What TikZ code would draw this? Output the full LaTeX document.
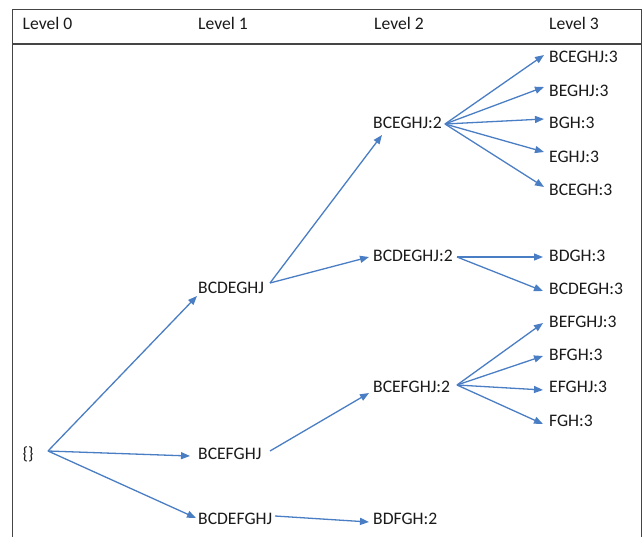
\documentclass[tikz,border=0pt]{standalone}
\usepackage{fontspec}
\setmainfont{Carlito}
\usetikzlibrary{arrows.meta}
\definecolor{arrowblue}{HTML}{4A7EC4}
\definecolor{txt}{HTML}{1A1A1A}
\definecolor{frame}{HTML}{454545}
\tikzset{
  lbl/.style={anchor=west, inner sep=0pt, text=txt, font=\fontsize{17.6}{20}\selectfont},
  hdr/.style={lbl},
  conn/.style={draw=arrowblue, line width=1.3pt, -{Triangle[length=9pt,width=7pt]}},
}
\begin{document}
\begin{tikzpicture}[x=1pt,y=-1pt]
\useasboundingbox (0,0) rectangle (643,536);
\fill[white] (0,0) rectangle (643,536);
% frame
\draw[frame, line width=1.4pt] (12.7,540) -- (12.7,9.5) -- (641.5,9.5) -- (641.5,540);
\draw[frame, line width=1.4pt] (12.7,44) -- (641.5,44);
% headers
\node[hdr] (h0) at (22.5,23) {Level 0};
\node[hdr] (h1) at (198,23) {Level 1};
\node[hdr] (h2) at (374,23) {Level 2};
\node[hdr] (h3) at (549,23) {Level 3};
% level 0
\node[lbl] (root) at (22.5,454) {\{\}};
\coordinate (rootout) at (48,451);
% level 1
\node[lbl] (a1) at (198,288) {BCDEGHJ};
\node[lbl] (a2) at (198,454) {BCEFGHJ};
\node[lbl] (a3) at (198,519) {BCDEFGHJ};
\coordinate (a1in) at (197,296);
\coordinate (a2in) at (190,456);
\coordinate (a3in) at (196,518);
\coordinate (a1out) at (270,283);
\coordinate (a2out) at (270,451);
\coordinate (a3out) at (275,516);
% level 2
\node[lbl] (b1) at (373,123) {BCEGHJ:2};
\node[lbl] (b2) at (373,256) {BCDEGHJ:2};
\node[lbl] (b3) at (373,387) {BCEFGHJ:2};
\node[lbl] (b4) at (373,519) {BDFGH:2};
\coordinate (b1in) at (382,135);
\coordinate (b2in) at (369,257);
\coordinate (b3in) at (369,393);
\coordinate (b4in) at (369,522);
\coordinate (b1out) at (445,124);
\coordinate (b2out) at (457,257);
\coordinate (b3out) at (457,385);
% level 3
\node[lbl] (c1) at (549,57) {BCEGHJ:3};
\node[lbl] (c2) at (549,91) {BEGHJ:3};
\node[lbl] (c3) at (549,123) {BGH:3};
\node[lbl] (c4) at (549,157) {EGHJ:3};
\node[lbl] (c5) at (549,190) {BCEGH:3};
\node[lbl] (c6) at (549,256) {BDGH:3};
\node[lbl] (c7) at (549,289) {BCDEGH:3};
\node[lbl] (c8) at (549,322) {BEFGHJ:3};
\node[lbl] (c9) at (549,355) {BFGH:3};
\node[lbl] (c10) at (549,387) {EFGHJ:3};
\node[lbl] (c11) at (549,421) {FGH:3};
% connectors level 0 -> 1
\draw[conn] (rootout) -- (a1in);
\draw[conn] (rootout) -- (a2in);
\draw[conn] (rootout) -- (a3in);
% level 1 -> 2
\draw[conn] (a1out) -- (b1in);
\draw[conn] (a1out) -- (b2in);
\draw[conn] (a2out) -- (b3in);
\draw[conn] (a3out) -- (b4in);
% level 2 -> 3
\draw[conn] (b1out) -- (544,55);
\draw[conn] (b1out) -- (544,87);
\draw[conn] (b1out) -- (544,119);
\draw[conn] (b1out) -- (544,152);
\draw[conn] (b1out) -- (544,187);
\draw[conn] (b2out) -- (543,257);
\draw[conn] (b2out) -- (543,291);
\draw[conn] (b3out) -- (543,323);
\draw[conn] (b3out) -- (543,356);
\draw[conn] (b3out) -- (543,390);
\draw[conn] (b3out) -- (543,424);
\end{tikzpicture}
\end{document}
